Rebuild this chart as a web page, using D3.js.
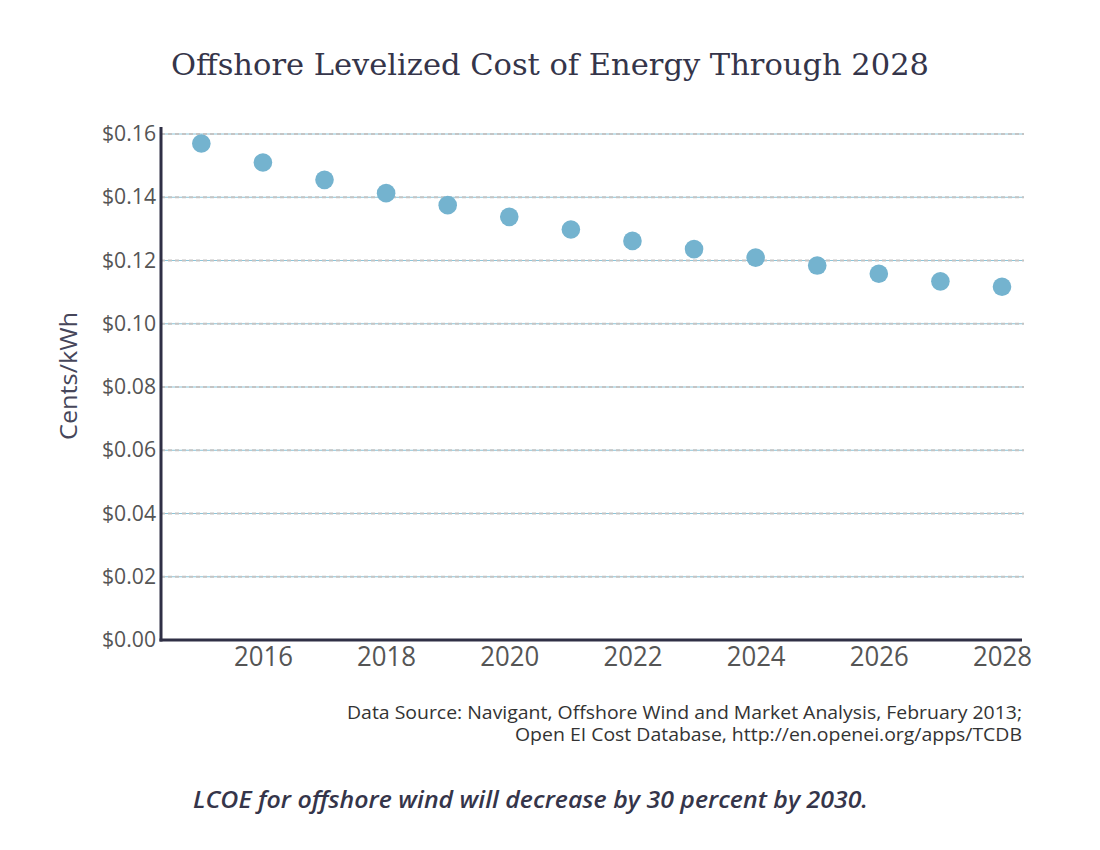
<!DOCTYPE html>
<html><head><meta charset="utf-8">
<script src="https://cdn.jsdelivr.net/npm/d3@7"></script>
<style>body{margin:0;background:#fff}</style>
</head><body>
<script>
const years = [2015,2016,2017,2018,2019,2020,2021,2022,2023,2024,2025,2026,2027,2028];
const lcoe = [0.157,0.151,0.1455,0.1413,0.1375,0.1338,0.1298,0.1262,0.1236,0.1209,0.1184,0.1158,0.1134,0.1117];
const yTicks = [0,0.02,0.04,0.06,0.08,0.10,0.12,0.14,0.16];
const xTicks = [2016,2018,2020,2022,2024,2026,2028];
const title = "Offshore Levelized Cost of Energy Through 2028";
const yTitle = "Cents/kWh";
const source = ["Data Source: Navigant, Offshore Wind and Market Analysis, February 2013;","Open EI Cost Database, http://en.openei.org/apps/TCDB"];
const caption = "LCOE for offshore wind will decrease by 30 percent by 2030.";

(function(){
const W=1100,H=850;
const svg=d3.select("body").append("svg").attr("width",W).attr("height",H);
const mL=161,mR=1022,mT=134,mB=640;
const x=d3.scaleLinear().domain([2014.345,2028.325]).range([mL,mR]);
const y=d3.scaleLinear().domain([0,0.16]).range([mB,mT]);

const g=svg.append("g");
yTicks.filter(d=>d>0).forEach(t=>{
  g.append("line").attr("x1",mL).attr("x2",mR+2).attr("y1",y(t)).attr("y2",y(t))
   .attr("stroke","#8cc4d8").attr("stroke-width",1);
  g.append("line").attr("x1",mL).attr("x2",mR+2).attr("y1",y(t)).attr("y2",y(t))
   .attr("stroke","#c4c4c4").attr("stroke-width",2).attr("stroke-dasharray","4,3");
});

const ya=svg.append("g").attr("transform",`translate(${mL},0)`)
  .call(d3.axisLeft(y).tickValues(yTicks).tickFormat(d=>"$"+d3.format(".2f")(d)).tickSize(0).tickPadding(5));
ya.select(".domain").remove();
ya.selectAll("text").attr("font-family","Open Sans").attr("font-size",21).attr("fill","#555")
  .attr("textLength",54).attr("lengthAdjust","spacingAndGlyphs");

const xa=svg.append("g").attr("transform",`translate(0,${mB})`)
  .call(d3.axisBottom(x).tickValues(xTicks).tickFormat(d3.format("d")).tickSize(0).tickPadding(7));
xa.select(".domain").remove();
xa.selectAll("text").attr("font-family","Open Sans").attr("font-size",27).attr("fill","#555").attr("dy","0.71em")
  .attr("textLength",59).attr("lengthAdjust","spacingAndGlyphs");

svg.append("line").attr("x1",mL).attr("x2",mL).attr("y1",127).attr("y2",mB+1.5)
  .attr("stroke","#2f2f45").attr("stroke-width",3);
svg.append("line").attr("x1",mL-1.5).attr("x2",mR).attr("y1",mB).attr("y2",mB)
  .attr("stroke","#2f2f45").attr("stroke-width",3);

svg.append("g").selectAll("circle").data(years).join("circle")
  .attr("cx",(d)=>x(d)).attr("cy",(d,i)=>y(lcoe[i])).attr("r",9.3).attr("fill","#74b3cf");

svg.append("text").attr("x",550).attr("y",75).attr("text-anchor","middle")
  .attr("font-family","DejaVu Serif Condensed, DejaVu Serif").attr("font-size",30)
  .attr("textLength",758).attr("lengthAdjust","spacingAndGlyphs")
  .attr("fill","#35354a").text(title);

svg.append("text").attr("transform","translate(77,376) rotate(-90)").attr("text-anchor","middle")
  .attr("font-family","Open Sans").attr("font-size",23).attr("fill","#46465a")
  .attr("textLength",128).attr("lengthAdjust","spacingAndGlyphs").text(yTitle);

svg.append("text").attr("x",1022).attr("y",719).attr("text-anchor","end")
  .attr("font-family","Open Sans").attr("font-size",17.5).attr("fill","#333")
  .attr("textLength",675).attr("lengthAdjust","spacingAndGlyphs").text(source[0]);
svg.append("text").attr("x",1022).attr("y",741).attr("text-anchor","end")
  .attr("font-family","Open Sans").attr("font-size",17.5).attr("fill","#333")
  .attr("textLength",507).attr("lengthAdjust","spacingAndGlyphs").text(source[1]);

svg.append("text").attr("x",530.5).attr("y",808).attr("text-anchor","middle")
  .attr("font-family","Open Sans").attr("font-style","italic").attr("font-weight",600)
  .attr("font-size",24).attr("fill","#35354a")
  .attr("textLength",675).attr("lengthAdjust","spacingAndGlyphs").text(caption);
})();
</script>
</body></html>
